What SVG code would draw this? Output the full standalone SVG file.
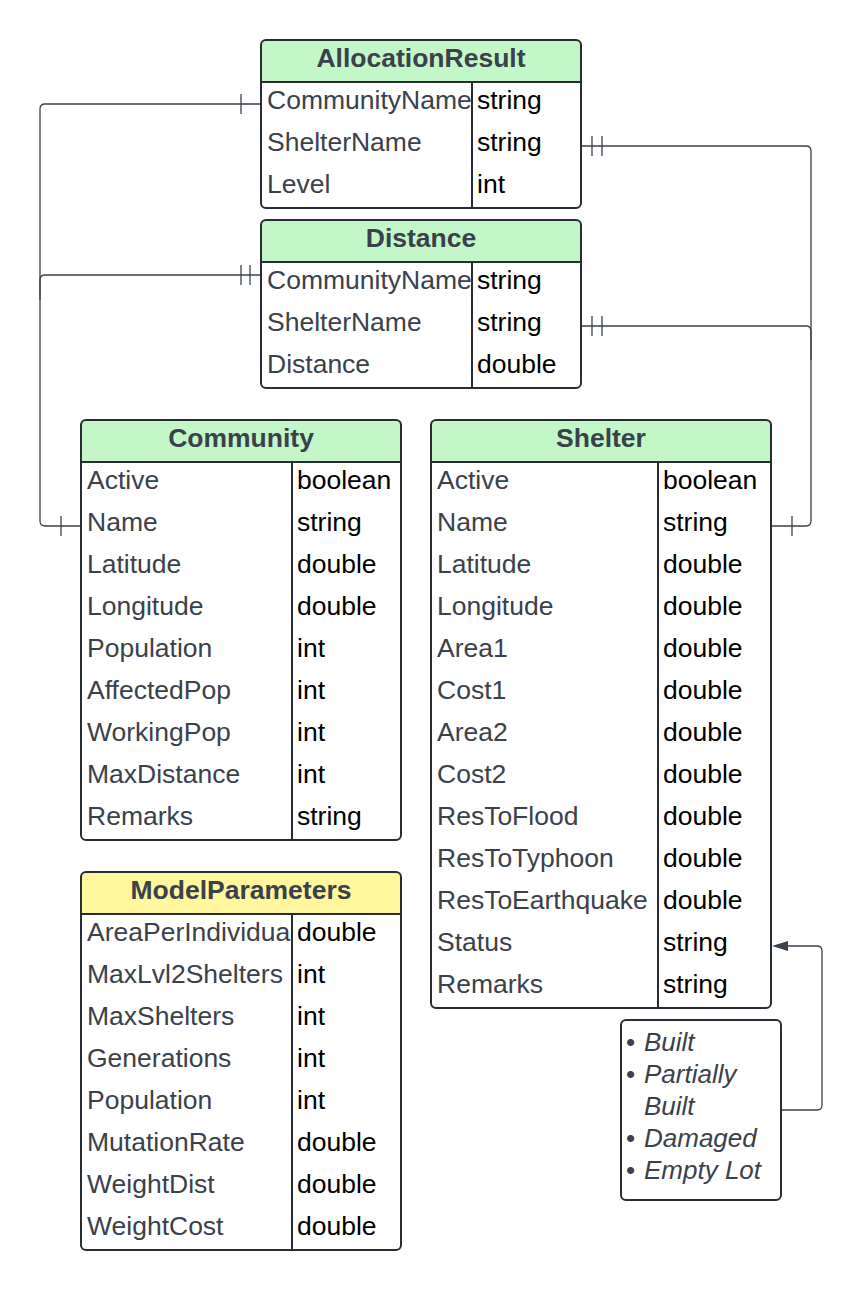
<svg xmlns="http://www.w3.org/2000/svg" width="862" height="1290" viewBox="0 0 862 1290">
<style>
.box{fill:#ffffff;stroke:none}
.out{fill:none;stroke:#282c33;stroke-width:2}
.hg{fill:#c3f7c8}
.hy{fill:#fff69e}
.ln{stroke:#282c33;stroke-width:2}
.ht{font-family:"Liberation Sans",Arial,sans-serif;font-weight:bold;font-size:26.5px;fill:#3a414a;text-anchor:middle}
.nm{font-family:"Liberation Sans",Arial,sans-serif;font-size:26.5px;fill:#3a414a}
.ty{font-family:"Liberation Sans",Arial,sans-serif;font-size:26.5px;fill:#000000}
.nt{font-family:"Liberation Sans",Arial,sans-serif;font-size:26px;font-style:italic;fill:#3a414a}
.cn{fill:none;stroke:#3a414a;stroke-width:1.3}
.bar{stroke:#3a414a;stroke-width:1.3}
</style>
<defs>
<clipPath id="clipMP"><rect x="82" y="914" width="209" height="336"/></clipPath>
<clipPath id="clipAR"><rect x="262" y="82" width="209" height="126"/></clipPath>
<clipPath id="clipDI"><rect x="262" y="262" width="209" height="126"/></clipPath>
</defs>

<g id="connectors">
<path class="cn" d="M261,104 H45 Q40,104 40,109 V521 Q40,526 45,526 H81"/>
<path class="cn" d="M261,275 H45 Q40,275 40,280 V300"/>
<line class="bar" x1="241" y1="94" x2="241" y2="114"/>
<line class="bar" x1="61" y1="516" x2="61" y2="536"/>
<line class="bar" x1="241" y1="265" x2="241" y2="285"/>
<line class="bar" x1="250" y1="265" x2="250" y2="285"/>
<path class="cn" d="M581,146 H806 Q811,146 811,151 V521 Q811,526 806,526 H771"/>
<path class="cn" d="M581,326 H806 Q811,326 811,331 V360"/>
<line class="bar" x1="592" y1="136" x2="592" y2="156"/>
<line class="bar" x1="602" y1="136" x2="602" y2="156"/>
<line class="bar" x1="592" y1="316" x2="592" y2="336"/>
<line class="bar" x1="602" y1="316" x2="602" y2="336"/>
<line class="bar" x1="792" y1="516" x2="792" y2="536"/>
<path class="cn" d="M781,1110 H817 Q822,1110 822,1105 V951 Q822,946 817,946 H787"/>
<polygon points="772,946 788,941 788,951" fill="#3a414a"/>
</g>

<g id="AllocationResult">
<rect class="box" x="261" y="40" width="320" height="168" rx="5"/>
<path class="hg" d="M261,82 V45 Q261,40 266,40 H576 Q581,40 581,45 V82 Z"/>
<line class="ln" x1="261" y1="82" x2="581" y2="82"/>
<line class="ln" x1="472" y1="82" x2="472" y2="208"/>
<rect class="out" x="261" y="40" width="320" height="168" rx="5"/>
<text class="ht" x="421" y="67">AllocationResult</text>
<g clip-path="url(#clipAR)">
<text class="nm" x="267" y="109">CommunityName</text>
<text class="nm" x="267" y="151">ShelterName</text>
<text class="nm" x="267" y="193">Level</text>
</g>
<text class="ty" x="477" y="109">string</text>
<text class="ty" x="477" y="151">string</text>
<text class="ty" x="477" y="193">int</text>
</g>

<g id="Distance">
<rect class="box" x="261" y="220" width="320" height="168" rx="5"/>
<path class="hg" d="M261,262 V225 Q261,220 266,220 H576 Q581,220 581,225 V262 Z"/>
<line class="ln" x1="261" y1="262" x2="581" y2="262"/>
<line class="ln" x1="472" y1="262" x2="472" y2="388"/>
<rect class="out" x="261" y="220" width="320" height="168" rx="5"/>
<text class="ht" x="421" y="247">Distance</text>
<g clip-path="url(#clipDI)">
<text class="nm" x="267" y="289">CommunityName</text>
<text class="nm" x="267" y="331">ShelterName</text>
<text class="nm" x="267" y="373">Distance</text>
</g>
<text class="ty" x="477" y="289">string</text>
<text class="ty" x="477" y="331">string</text>
<text class="ty" x="477" y="373">double</text>
</g>

<g id="Community">
<rect class="box" x="81" y="420" width="320" height="420" rx="5"/>
<path class="hg" d="M81,462 V425 Q81,420 86,420 H396 Q401,420 401,425 V462 Z"/>
<line class="ln" x1="81" y1="462" x2="401" y2="462"/>
<line class="ln" x1="292" y1="462" x2="292" y2="840"/>
<rect class="out" x="81" y="420" width="320" height="420" rx="5"/>
<text class="ht" x="241" y="447">Community</text>
<text class="nm" x="87" y="489">Active</text><text class="ty" x="297" y="489">boolean</text>
<text class="nm" x="87" y="531">Name</text><text class="ty" x="297" y="531">string</text>
<text class="nm" x="87" y="573">Latitude</text><text class="ty" x="297" y="573">double</text>
<text class="nm" x="87" y="615">Longitude</text><text class="ty" x="297" y="615">double</text>
<text class="nm" x="87" y="657">Population</text><text class="ty" x="297" y="657">int</text>
<text class="nm" x="87" y="699">AffectedPop</text><text class="ty" x="297" y="699">int</text>
<text class="nm" x="87" y="741">WorkingPop</text><text class="ty" x="297" y="741">int</text>
<text class="nm" x="87" y="783">MaxDistance</text><text class="ty" x="297" y="783">int</text>
<text class="nm" x="87" y="825">Remarks</text><text class="ty" x="297" y="825">string</text>
</g>

<g id="Shelter">
<rect class="box" x="431" y="420" width="340" height="588" rx="5"/>
<path class="hg" d="M431,462 V425 Q431,420 436,420 H766 Q771,420 771,425 V462 Z"/>
<line class="ln" x1="431" y1="462" x2="771" y2="462"/>
<line class="ln" x1="658" y1="462" x2="658" y2="1008"/>
<rect class="out" x="431" y="420" width="340" height="588" rx="5"/>
<text class="ht" x="601" y="447">Shelter</text>
<text class="nm" x="437" y="489">Active</text><text class="ty" x="663" y="489">boolean</text>
<text class="nm" x="437" y="531">Name</text><text class="ty" x="663" y="531">string</text>
<text class="nm" x="437" y="573">Latitude</text><text class="ty" x="663" y="573">double</text>
<text class="nm" x="437" y="615">Longitude</text><text class="ty" x="663" y="615">double</text>
<text class="nm" x="437" y="657">Area1</text><text class="ty" x="663" y="657">double</text>
<text class="nm" x="437" y="699">Cost1</text><text class="ty" x="663" y="699">double</text>
<text class="nm" x="437" y="741">Area2</text><text class="ty" x="663" y="741">double</text>
<text class="nm" x="437" y="783">Cost2</text><text class="ty" x="663" y="783">double</text>
<text class="nm" x="437" y="825">ResToFlood</text><text class="ty" x="663" y="825">double</text>
<text class="nm" x="437" y="867">ResToTyphoon</text><text class="ty" x="663" y="867">double</text>
<text class="nm" x="437" y="909">ResToEarthquake</text><text class="ty" x="663" y="909">double</text>
<text class="nm" x="437" y="951">Status</text><text class="ty" x="663" y="951">string</text>
<text class="nm" x="437" y="993">Remarks</text><text class="ty" x="663" y="993">string</text>
</g>

<g id="ModelParameters">
<rect class="box" x="81" y="872" width="320" height="378" rx="5"/>
<path class="hy" d="M81,914 V877 Q81,872 86,872 H396 Q401,872 401,877 V914 Z"/>
<line class="ln" x1="81" y1="914" x2="401" y2="914"/>
<line class="ln" x1="292" y1="914" x2="292" y2="1250"/>
<rect class="out" x="81" y="872" width="320" height="378" rx="5"/>
<text class="ht" x="241" y="899">ModelParameters</text>
<g clip-path="url(#clipMP)">
<text class="nm" x="87" y="941">AreaPerIndividual</text>
<text class="nm" x="87" y="983">MaxLvl2Shelters</text>
<text class="nm" x="87" y="1025">MaxShelters</text>
<text class="nm" x="87" y="1067">Generations</text>
<text class="nm" x="87" y="1109">Population</text>
<text class="nm" x="87" y="1151">MutationRate</text>
<text class="nm" x="87" y="1193">WeightDist</text>
<text class="nm" x="87" y="1235">WeightCost</text>
</g>
<text class="ty" x="297" y="941">double</text>
<text class="ty" x="297" y="983">int</text>
<text class="ty" x="297" y="1025">int</text>
<text class="ty" x="297" y="1067">int</text>
<text class="ty" x="297" y="1109">int</text>
<text class="ty" x="297" y="1151">double</text>
<text class="ty" x="297" y="1193">double</text>
<text class="ty" x="297" y="1235">double</text>
</g>

<g id="StatusNote">
<rect x="621" y="1020" width="160" height="180" rx="5" fill="#ffffff" stroke="#282c33" stroke-width="2"/>
<text class="nt" x="626" y="1051"><tspan font-style="normal">•</tspan><tspan x="644">Built</tspan></text>
<text class="nt" x="626" y="1083"><tspan font-style="normal">•</tspan><tspan x="644">Partially</tspan></text>
<text class="nt" x="644" y="1115">Built</text>
<text class="nt" x="626" y="1147"><tspan font-style="normal">•</tspan><tspan x="644">Damaged</tspan></text>
<text class="nt" x="626" y="1179"><tspan font-style="normal">•</tspan><tspan x="644">Empty Lot</tspan></text>
</g>
</svg>
